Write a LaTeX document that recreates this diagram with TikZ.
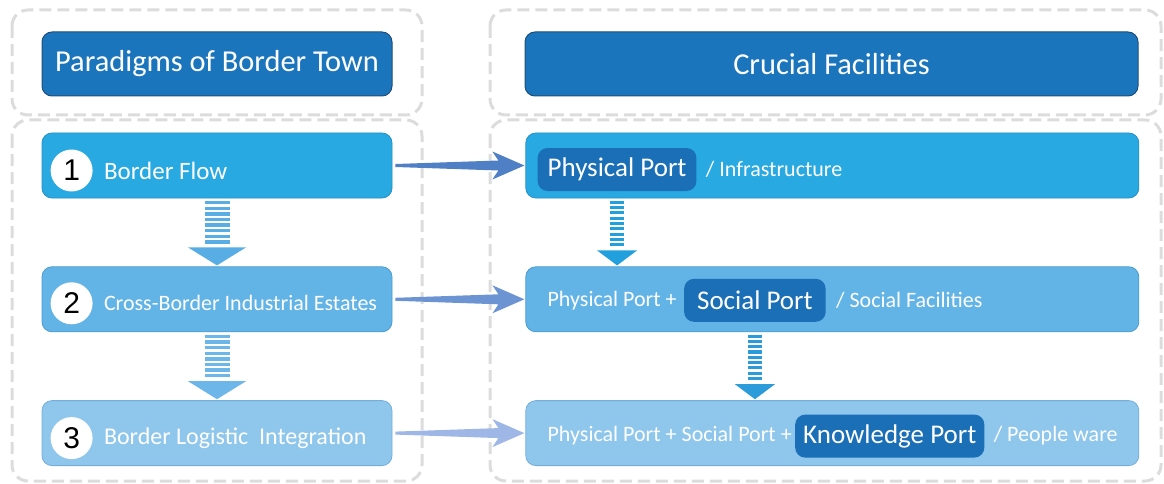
\documentclass[tikz,border=0pt]{standalone}
\usepackage{fontspec}
\setmainfont{Carlito}
\newfontfamily\numfont{Liberation Sans}
\usetikzlibrary{calc,positioning}

\definecolor{headblue}{HTML}{1B75BC}
\definecolor{headline}{HTML}{1F4E79}
\definecolor{boxA}{HTML}{29A9E1}
\definecolor{boxB}{HTML}{62B3E6}
\definecolor{boxC}{HTML}{8EC6EC}
\definecolor{lineA}{HTML}{2590C8}
\definecolor{lineB}{HTML}{4A9BD0}
\definecolor{lineC}{HTML}{74AEDA}
\definecolor{pillblue}{HTML}{1A6FB6}
\definecolor{harrowA}{HTML}{4F7FC5}
\definecolor{harrowB}{HTML}{6C93D2}
\definecolor{harrowC}{HTML}{9FB7E6}
\definecolor{varrowA}{HTML}{58ADE5}
\definecolor{varrowB}{HTML}{6DB6E9}
\definecolor{varrowC}{HTML}{21A0DD}
\definecolor{varrowD}{HTML}{2B9BD9}
\definecolor{dashgrey}{HTML}{DCDCDC}

\begin{document}
\begin{tikzpicture}[x=1pt,y=-1pt]

\tikzset{dashbox/.style={draw=dashgrey,line width=3pt,dash pattern=on 12pt off 6pt,rounded corners=16pt},
headnode/.style={fill=headblue,draw=headline,line width=1pt,rounded corners=10pt,minimum height=64pt,text=white,font=\fontsize{30.4}{34}\selectfont},
boxnode/.style={rounded corners=10pt,line width=0.8pt,minimum height=65pt},
numnode/.style={circle,fill=white,minimum size=42pt,inner sep=0pt,font=\numfont\fontsize{30}{32}\selectfont},
bigtext/.style={text=white,inner sep=0pt},
smalltext/.style={text=white,inner sep=0pt,font=\fontsize{22}{26}\selectfont},
pillnode/.style={fill=pillblue,text=white,rounded corners=10pt,inner xsep=10pt,inner ysep=0pt,minimum height=43pt,font=\fontsize{27}{30}\selectfont}}

\useasboundingbox (0,0) rectangle (1164,484);

% dashed containers
\draw[dashbox] (12,10) rectangle (422,115);
\draw[dashbox] (12,120) rectangle (422,481);
\draw[dashbox] (490,10) rectangle (1161,115);
\draw[dashbox] (490,120) rectangle (1161,481);

% headers
\node (h1) [headnode,minimum width=350pt] at (217,64) {Paradigms of Border Town};
\node (h2) [headnode,minimum width=613pt] at (831.5,64) {Crucial Facilities};

% left boxes
\node (b1) [boxnode,fill=boxA,draw=lineA,minimum width=350pt] at (217,165.5) {};
\node (b2) [boxnode,fill=boxB,draw=lineB,minimum width=350pt,below=68pt of b1] {};
\node (b3) [boxnode,fill=boxC,draw=lineC,minimum width=350pt,below=68pt of b2] {};

% right boxes
\node (r1) [boxnode,fill=boxA,draw=lineA,minimum width=613pt,right=133pt of b1] {};
\node (r2) [boxnode,fill=boxB,draw=lineB,minimum width=613pt,right=133pt of b2] {};
\node (r3) [boxnode,fill=boxC,draw=lineC,minimum width=613pt,right=133pt of b3] {};

% numbers and left texts
\node (n1) [numnode] at ($(b1.west)+(30,5)$) {1};
\node (l1) [right=11pt of n1,bigtext,font=\fontsize{25}{28}\selectfont] {Border Flow};
\node (n2) [numnode] at ($(b2.west)+(30,4)$) {2};
\node (l2) [right=11pt of n2,bigtext,font=\fontsize{22}{26}\selectfont] {Cross-Border Industrial Estates};
\node (n3) [numnode] at ($(b3.west)+(30,5)$) {3};
\node (l3) [right=11pt of n3,bigtext,font=\fontsize{24}{28}\selectfont] {Border Logistic\ \ Integration};

% right texts
\node (p1) [pillnode,anchor=west] at ($(r1.west)+(12,4)$) {Physical Port};
\node (t1) [right=9pt of p1,smalltext] {/ Infrastructure};
\node (t2a) [smalltext,anchor=west] at ($(r2.west)+(22,1)$) {Physical Port +};
\node (p2) [right=7pt of t2a,pillnode,inner xsep=13pt] {Social Port};
\node (t2b) [right=10pt of p2,smalltext] {/ Social Facilities};
\node (t3a) [smalltext,anchor=west] at ($(r3.west)+(22,3)$) {Physical Port + Social Port +};
\node (p3) [right=3pt of t3a,pillnode,inner xsep=8pt] {Knowledge Port};
\node (t3b) [right=9pt of p3,smalltext] {/ People ware};

% horizontal arrows
\foreach \a/\b/\c in {b1/r1/harrowA, b2/r2/harrowB, b3/r3/harrowC}
  \fill[\c] ($(\a.east)+(3,-1.5)$) -- ($(\b.west)+(-27,-5)$) -- ($(\b.west)+(-33,-14)$) -- ($(\b.west)+(-1,0)$)
    -- ($(\b.west)+(-33,14)$) -- ($(\b.west)+(-27,5)$) -- ($(\a.east)+(3,1.5)$) -- cycle;

% striped arrows
\foreach \x/\a/\b/\w/\hw/\hh/\n/\p/\c in {b1/b1/b2/12.5/29/18/8/5.6/varrowA, b2/b2/b3/12.5/29/18/8/5.6/varrowB, p1/r1/r2/7/20/15/9/5.3/varrowC, p2/r2/r3/7/20/15/9/5.3/varrowD} {
  \foreach \i in {1,...,\n} \fill[\c] ($(\x |- \a.south)+(-\w,\i*\p-3)$) rectangle ++(2*\w,0.6*\p); % stripes
  \fill[\c] ($(\x |- \b.north)+(0,-1)$) -- ++(-\hw,-\hh) -- ++(2*\hw,0) -- cycle;
}

\end{tikzpicture}
\end{document}
